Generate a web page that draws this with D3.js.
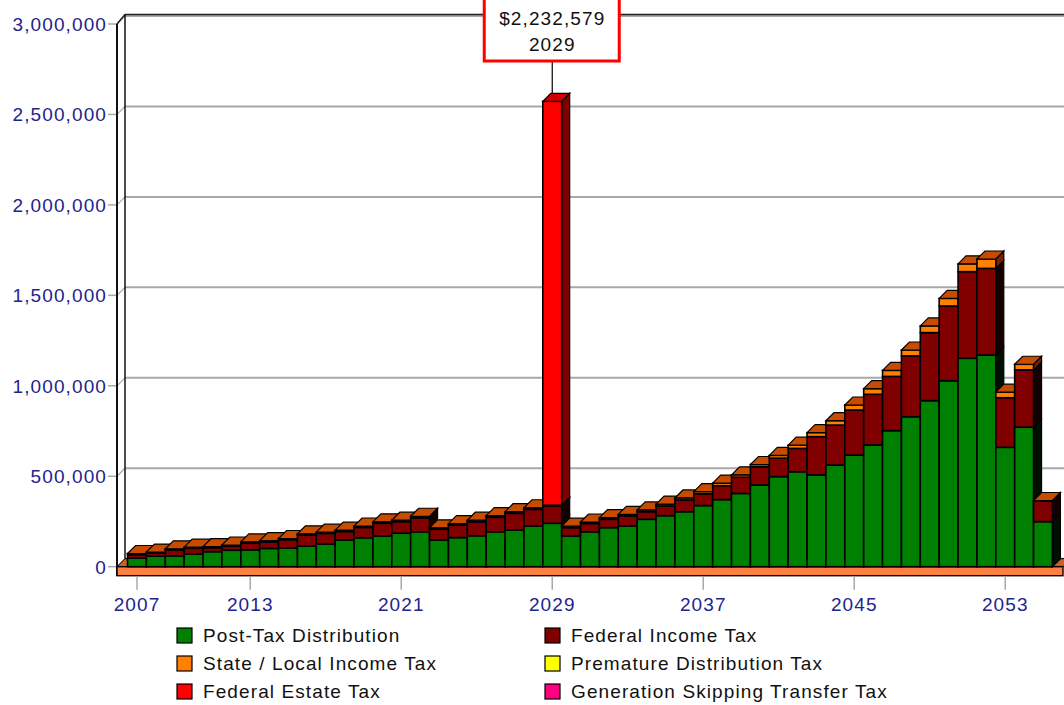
<!DOCTYPE html>
<html>
<head>
<meta charset="utf-8">
<script src="https://cdn.jsdelivr.net/npm/d3@7"></script>
<style>
  html, body { margin: 0; padding: 0; background: #ffffff; }
  svg { display: block; }
  text { font-family: "Liberation Sans", Arial, sans-serif; font-size: 19px; letter-spacing: 1.1px; }
</style>
</head>
<body>
<svg id="chart" width="1064" height="705"></svg>
<script>
// ---- data ----
const years = [2007, 2008, 2009, 2010, 2011, 2012, 2013, 2014, 2015, 2016,
               2017, 2018, 2019, 2020, 2021, 2022, 2023, 2024, 2025, 2026,
               2027, 2028, 2029, 2030, 2031, 2032, 2033, 2034, 2035, 2036,
               2037, 2038, 2039, 2040, 2041, 2042, 2043, 2044, 2045, 2046,
               2047, 2048, 2049, 2050, 2051, 2052, 2053, 2054, 2055];

const postTax = [48000, 58000, 60000, 70000, 83000, 91000, 93000, 101000, 103000, 114000,
                 125000, 148000, 160000, 170000, 185000, 193000, 148000, 161000, 171000, 193000,
                 203000, 225000, 240000, 170000, 193000, 216000, 225000, 262000, 282000, 304000,
                 338000, 371000, 405000, 452000, 498000, 525000, 507000, 562000, 617000, 673000,
                 752000, 829000, 918000, 1028000, 1152000, 1170000, 660000, 771000, 249000];

const federalIncome = [19000, 17000, 33000, 32000, 22000, 22000, 37000, 36000, 46000, 61000,
                       59000, 46000, 57000, 70000, 64000, 77000, 59000, 69000, 77000, 80000,
                       92000, 92000, 96000, 46000, 46000, 46000, 55000, 42000, 54000, 65000,
                       65000, 77000, 90000, 101000, 102000, 129000, 212000, 221000, 249000, 280000,
                       300000, 336000, 376000, 413000, 479000, 479000, 274000, 317000, 114000];

const stateLocal = [6000, 6000, 6000, 6000, 6000, 7000, 7000, 7000, 7000, 7000,
                    7000, 8000, 8000, 8000, 8000, 9000, 8000, 8000, 9000, 9000,
                    9000, 9000, 4000, 8000, 8000, 9000, 9000, 10000, 10000, 11000,
                    12000, 14000, 13000, 12000, 15000, 18000, 22000, 24000, 28000, 31000,
                    33000, 33000, 37000, 42000, 43000, 52000, 31000, 31000, 3000];

const prematureDist = [0, 0, 0, 0, 0, 0, 0, 0, 0, 0,
                       0, 0, 0, 0, 0, 0, 0, 0, 0, 0,
                       0, 0, 0, 0, 0, 0, 0, 0, 0, 0,
                       0, 0, 0, 0, 0, 0, 0, 0, 0, 0,
                       0, 0, 0, 0, 0, 0, 0, 0, 0];

const federalEstate = [0, 0, 0, 0, 0, 0, 0, 0, 0, 0,
                       0, 0, 0, 0, 0, 0, 0, 0, 0, 0,
                       0, 0, 2232579, 0, 0, 0, 0, 0, 0, 0,
                       0, 0, 0, 0, 0, 0, 0, 0, 0, 0,
                       0, 0, 0, 0, 0, 0, 0, 0, 0];

const genSkipping = [0, 0, 0, 0, 0, 0, 0, 0, 0, 0,
                     0, 0, 0, 0, 0, 0, 0, 0, 0, 0,
                     0, 0, 0, 0, 0, 0, 0, 0, 0, 0,
                     0, 0, 0, 0, 0, 0, 0, 0, 0, 0,
                     0, 0, 0, 0, 0, 0, 0, 0, 0];

const seriesNames = ["Post-Tax Distribution", "Federal Income Tax", "State / Local Income Tax",
                     "Premature Distribution Tax", "Federal Estate Tax", "Generation Skipping Transfer Tax"];
const seriesValues = [postTax, federalIncome, stateLocal, prematureDist, federalEstate, genSkipping];

const yTickValues = [0, 500000, 1000000, 1500000, 2000000, 2500000, 3000000];
const xTickYears = [2007, 2013, 2021, 2029, 2037, 2045, 2053];

const calloutYear = 2029;
const calloutKey = "Federal Estate Tax";

// ---- styling ----
const faceColors = {
  "Post-Tax Distribution":            { front: "#008000", side: "#001000", top: "#006000" },
  "Federal Income Tax":               { front: "#800000", side: "#140000", top: "#600000" },
  "State / Local Income Tax":         { front: "#ff8000", side: "#7a2000", top: "#c84c00" },
  "Premature Distribution Tax":       { front: "#ffff00", side: "#808000", top: "#c0c000" },
  "Federal Estate Tax":               { front: "#ff0000", side: "#800000", top: "#d00000" },
  "Generation Skipping Transfer Tax": { front: "#ff0080", side: "#800040", top: "#c00060" }
};
const axisText = "#23238c";
const gridColor = "#a8a8a8";
const D = 8;                 // depth offset of the 3D projection
const plotLeft = 117, plotRight = 1063;
const floorH = 9;

const svg = d3.select("#chart");

// rows for stacking
const rows = years.map((yr, i) => {
  const r = { year: yr };
  seriesNames.forEach((n, k) => { r[n] = seriesValues[k][i]; });
  return r;
});
const stacked = d3.stack().keys(seriesNames)(rows);

const x = d3.scaleBand().domain(years).range([plotLeft, plotRight]).paddingInner(0).paddingOuter(0.56);
const y = d3.scaleLinear().domain([0, 3000000]).range([566.7, 24]);
const bw = x.bandwidth();
const y0 = y(0);

const poly = pts => "M" + pts.map(p => p.join(",")).join("L") + "Z";

// ---- back wall grid ----
const grid = svg.append("g");
yTickValues.forEach(v => {
  const yy = y(v);
  grid.append("line").attr("x1", plotLeft + D).attr("x2", 1080)
    .attr("y1", yy - D).attr("y2", yy - D)
    .attr("stroke", gridColor).attr("stroke-width", 2);
  grid.append("line").attr("x1", plotLeft).attr("x2", plotLeft + D)
    .attr("y1", yy).attr("y2", yy - D)
    .attr("stroke", gridColor).attr("stroke-width", 1.2);
  grid.append("line").attr("x1", plotLeft - 9).attr("x2", plotLeft)
    .attr("y1", yy).attr("y2", yy)
    .attr("stroke", gridColor).attr("stroke-width", 1.5);
});
const yTop = y(3000000);
// wall outline
grid.append("line").attr("x1", plotLeft + D).attr("x2", 1080)
  .attr("y1", yTop - D - 1.5).attr("y2", yTop - D - 1.5).attr("stroke", "#222").attr("stroke-width", 1.5);
grid.append("line").attr("x1", plotLeft).attr("x2", plotLeft + D)
  .attr("y1", yTop).attr("y2", yTop - D - 1.5).attr("stroke", "#222").attr("stroke-width", 1.5);
grid.append("line").attr("x1", plotLeft + D).attr("x2", plotLeft + D)
  .attr("y1", yTop - D - 1.5).attr("y2", y0 - D).attr("stroke", "#111").attr("stroke-width", 1.5);
grid.append("line").attr("x1", plotLeft).attr("x2", plotLeft)
  .attr("y1", yTop).attr("y2", y0 + floorH).attr("stroke", "#111").attr("stroke-width", 2);

// ---- y labels ----
const fmt = d3.format(",");
svg.append("g").selectAll("text").data(yTickValues).join("text")
  .attr("x", 107).attr("y", d => y(d) + 7)
  .attr("text-anchor", "end").attr("fill", axisText)
  .text(d => fmt(d));

// ---- floor ----
const floor = svg.append("g");
floor.append("path")
  .attr("d", poly([[plotLeft, y0], [plotLeft + D, y0 - D], [plotRight + D, y0 - D], [plotRight, y0]]))
  .attr("fill", "#c8602a").attr("stroke", "#000").attr("stroke-width", 1);
floor.append("rect").attr("x", plotLeft).attr("y", y0).attr("width", plotRight - plotLeft).attr("height", floorH)
  .attr("fill", "#ff8040").attr("stroke", "#000").attr("stroke-width", 1.4);

// ---- bars (painted left to right so neighbours hide inner faces) ----
const bars = svg.append("g");
years.forEach((yr, i) => {
  const g = bars.append("g");
  const x0 = x(yr), x1 = x0 + bw;
  const segs = stacked.map(s => ({ key: s.key, lo: s[i][0], hi: s[i][1] })).filter(s => s.hi > s.lo);
  segs.forEach((s, k) => {
    const c = faceColors[s.key];
    const yb = y(s.lo), yt = y(s.hi);
    g.append("path")
      .attr("d", poly([[x1, yb], [x1, yt], [x1 + D, yt - D], [x1 + D, yb - D]]))
      .attr("fill", c.side).attr("stroke", "#000").attr("stroke-width", 1.2);
    g.append("rect").attr("x", x0).attr("y", yt).attr("width", bw).attr("height", yb - yt)
      .attr("fill", c.front).attr("stroke", "#000").attr("stroke-width", 1.6);
    if (k === segs.length - 1) {
      g.append("path")
        .attr("d", poly([[x0, yt], [x0 + D, yt - D], [x1 + D, yt - D], [x1, yt]]))
        .attr("fill", c.top).attr("stroke", "#000").attr("stroke-width", 1.2);
    }
  });
});

// ---- x axis ticks and labels ----
const xa = svg.append("g");
xTickYears.forEach(yr => {
  const cx = x(yr) + bw / 2;
  xa.append("line").attr("x1", cx).attr("x2", cx).attr("y1", y0 + floorH + 1).attr("y2", y0 + 23)
    .attr("stroke", gridColor).attr("stroke-width", 1.5);
  xa.append("text").attr("x", cx).attr("y", 611).attr("text-anchor", "middle")
    .attr("fill", axisText).text(yr);
});

// ---- callout ----
const ci = years.indexOf(calloutYear);
const cTotal = stacked[stacked.length - 1][ci][1];
const cVal = seriesValues[seriesNames.indexOf(calloutKey)][ci];
const ccx = x(calloutYear) + bw / 2;
const call = svg.append("g");
call.append("line").attr("x1", ccx).attr("x2", ccx).attr("y1", 61).attr("y2", y(cTotal) - D)
  .attr("stroke", "#000").attr("stroke-width", 1.2);
call.append("rect").attr("x", ccx - 68).attr("y", -10).attr("width", 135).attr("height", 71)
  .attr("fill", "#fff").attr("stroke", "#ff0000").attr("stroke-width", 3);
call.append("text").attr("x", ccx).attr("y", 25).attr("text-anchor", "middle").attr("fill", "#111")
  .text("$" + fmt(cVal));
call.append("text").attr("x", ccx).attr("y", 51).attr("text-anchor", "middle").attr("fill", "#111")
  .text(calloutYear);

// ---- legend ----
const leg = svg.append("g");
seriesNames.forEach((n, k) => {
  const col = k % 2, row = Math.floor(k / 2);
  const lx = col === 0 ? 177 : 545;
  const ly = 628 + row * 28;
  leg.append("rect").attr("x", lx).attr("y", ly).attr("width", 15).attr("height", 15)
    .attr("fill", faceColors[n].front).attr("stroke", "#000").attr("stroke-width", 1.2);
  leg.append("text").attr("x", lx + 26).attr("y", ly + 14).attr("fill", "#111").text(n);
});
</script>
</body>
</html>
